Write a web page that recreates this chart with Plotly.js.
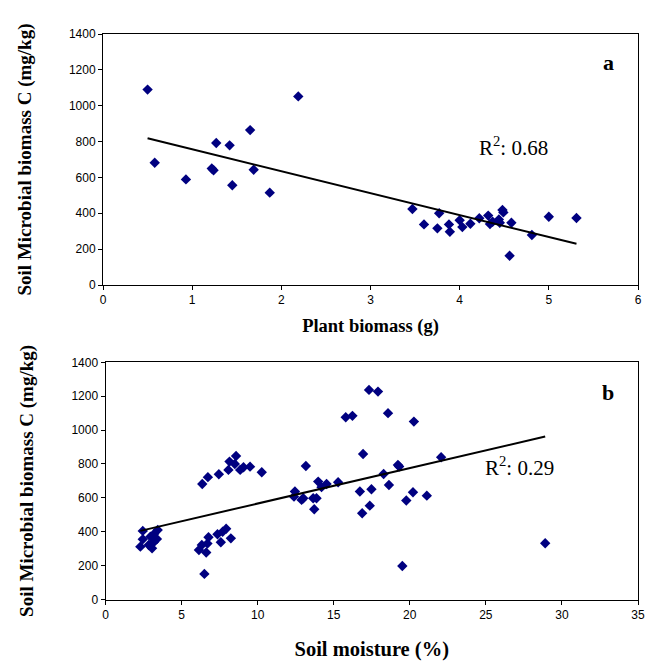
<!DOCTYPE html>
<html>
<head>
<meta charset="utf-8">
<script src="https://cdn.plot.ly/plotly-3.0.1.min.js"></script>
<style>html,body{margin:0;padding:0;background:#fff;}#chart{width:651px;height:664px;}</style>
</head>
<body>
<div id="chart"></div>
<script>
// Panel a: plant biomass (g) vs soil microbial biomass C (mg/kg)
var plantBiomass = [0.50,0.58,0.93,1.22,1.24,1.27,1.42,1.45,1.65,1.69,1.87,2.19,3.47,3.60,3.75,3.77,3.88,3.89,4.00,4.03,4.12,4.22,4.32,4.34,4.37,4.44,4.45,4.48,4.49,4.56,4.58,4.81,5.00,5.31];
var microbialA   = [1090,682,589,650,640,792,779,556,864,643,515,1052,424,338,316,400,338,297,361,323,342,372,387,340,353,366,347,418,405,163,347,279,381,374];
var trendAx = [0.50, 5.31];
var trendAy = [818, 230];

// Panel b: soil moisture (%) vs soil microbial biomass C (mg/kg)
var soilMoisture = [2.29,2.45,2.45,2.84,2.95,3.06,3.17,3.17,3.38,3.43,
  6.14,6.33,6.50,6.62,6.70,6.77,7.36,7.58,7.70,7.93,8.24,
  6.36,6.73,7.45,8.08,8.15,8.50,8.58,8.85,9.07,9.50,10.27,
  12.39,12.45,12.89,13.00,13.17,13.65,13.72,13.87,13.98,14.20,14.53,15.29,15.79,16.23,16.72,16.87,16.93,17.32,17.37,17.48,17.91,18.28,18.57,18.63,19.22,19.30,19.51,19.77,20.21,20.27,21.12,22.06,28.9];
var microbialB = [312,405,356,322,371,302,338,385,357,410,
  292,322,151,277,330,367,385,338,400,418,361,
  682,722,739,765,814,800,847,765,781,784,751,
  607,637,588,598,788,598,533,598,696,663,682,692,1076,1084,637,509,859,1237,554,651,1227,741,1100,676,794,785,198,584,633,1050,613,840,332];
var trendBx = [2.29, 28.9];
var trendBy = [405, 962];

var xTicksA = [0,1,2,3,4,5,6];
var xTicksB = [0,5,10,15,20,25,30,35];
var yTicks = [0,200,400,600,800,1000,1200,1400];

var W = 651, H = 664;
var serif = 'Liberation Serif, Times New Roman, serif';
var sans = 'Liberation Sans, Arial, sans-serif';
var marker = {symbol:'diamond', size:8, color:'#000080', line:{width:0}};

var traces = [
  {x:plantBiomass, y:microbialA, mode:'markers', type:'scatter', marker:marker, xaxis:'x', yaxis:'y', showlegend:false},
  {x:trendAx, y:trendAy, mode:'lines', type:'scatter', line:{color:'#000', width:2}, xaxis:'x', yaxis:'y', showlegend:false},
  {x:soilMoisture, y:microbialB, mode:'markers', type:'scatter', marker:marker, xaxis:'x2', yaxis:'y2', showlegend:false},
  {x:trendBx, y:trendBy, mode:'lines', type:'scatter', line:{color:'#000', width:2}, xaxis:'x2', yaxis:'y2', showlegend:false}
];

function xax(domain, ticks, range, title, anchor, fsize, standoff){
  return {domain:domain, range:range, tickvals:ticks, ticks:'outside', ticklen:4, tickcolor:'#000',
    showline:true, linecolor:'#000', linewidth:1, mirror:true, showgrid:false, zeroline:false,
    tickfont:{family:sans, size:12, color:'#000'}, anchor:anchor,
    title:{text:title, font:{family:serif, size:fsize, color:'#000', weight:'bold'}, standoff:standoff}};
}
function yax(domain, anchor){
  return {domain:domain, range:[0,1400], tickvals:yTicks, ticks:'outside', ticklen:4, tickcolor:'#000',
    showline:true, linecolor:'#000', linewidth:1, mirror:true, showgrid:false, zeroline:false,
    tickfont:{family:sans, size:12, color:'#000'}, anchor:anchor,
    title:{text:'Soil Microbial biomass C (mg/kg)', font:{family:serif, size:19, color:'#000', weight:'bold'}, standoff:32}};
}

var layout = {
  width:W, height:H, margin:{l:0,r:0,t:0,b:0}, paper_bgcolor:'#fff', plot_bgcolor:'#fff',
  xaxis: xax([103/W, 638/W], xTicksA, [0,6], 'Plant biomass (g)', 'y', 18.5, 12),
  yaxis: yax([1-285/H, 1-34/H], 'x'),
  xaxis2: xax([105.5/W, 638/W], xTicksB, [0,35], 'Soil moisture (%)', 'y2', 20.5, 20),
  yaxis2: yax([1-599.5/H, 1-362.3/H], 'x2'),
  annotations:[
    {xref:'x', yref:'y', x:4.6, y:770, text:'R<sup>2</sup>: 0.68', showarrow:false, font:{family:serif, size:21, color:'#000'}},
    {xref:'x2', yref:'y2', x:27.2, y:783, text:'R<sup>2</sup>: 0.29', showarrow:false, font:{family:serif, size:21, color:'#000'}},
    {xref:'paper', yref:'paper', x:608/W, y:1-62/H, xanchor:'center', yanchor:'middle', text:'a', showarrow:false, font:{family:serif, size:22, color:'#000', weight:'bold'}},
    {xref:'paper', yref:'paper', x:608/W, y:1-392/H, xanchor:'center', yanchor:'middle', text:'b', showarrow:false, font:{family:serif, size:22, color:'#000', weight:'bold'}}
  ]
};
Plotly.newPlot('chart', traces, layout, {displayModeBar:false, staticPlot:true});
</script>
</body>
</html>
